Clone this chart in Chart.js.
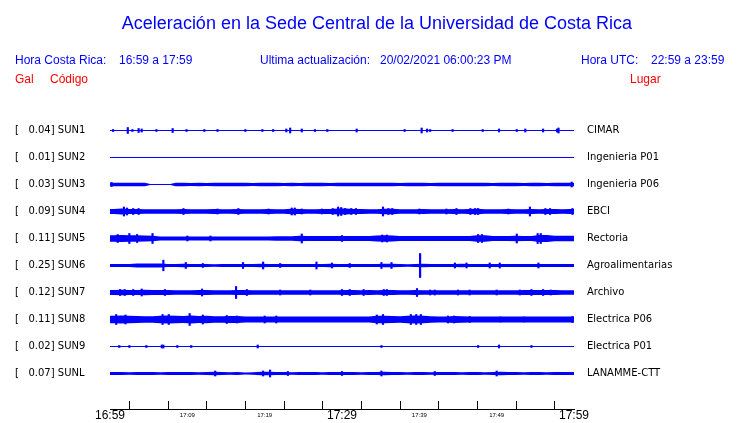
<!DOCTYPE html>
<html>
<head>
<meta charset="utf-8">
<script src="https://cdn.jsdelivr.net/npm/chart.js@4.4.1/dist/chart.umd.min.js"></script>
<style>
  body { margin: 0; background: #fff; }
  #wrap { position: relative; width: 740px; height: 423px; font-family: "Liberation Sans", Arial, sans-serif; }
  #wrap canvas { position: absolute; left: 0; top: 0; }
  .txt { position: absolute; white-space: pre; line-height: 1; }
  .blue { color: #0000ff; }
  .red { color: #ff0000; }
</style>
</head>
<body>
<div id="wrap">
  <canvas id="sismo" width="740" height="423"></canvas>
  <div class="txt blue" style="left:0; width:754px; text-align:center; top:14px; font-size:18px;">Aceleración en la Sede Central de la Universidad de Costa Rica</div>
  <div class="txt blue" style="left:15px; top:54px; font-size:12px;">Hora Costa Rica:</div>
  <div class="txt blue" style="left:119px; top:54px; font-size:12px;">16:59 a 17:59</div>
  <div class="txt blue" style="left:260px; top:54px; font-size:12px;">Ultima actualización:</div>
  <div class="txt blue" style="left:380px; top:54px; font-size:12px;">20/02/2021 06:00:23 PM</div>
  <div class="txt blue" style="left:581px; top:54px; font-size:12px;">Hora UTC:</div>
  <div class="txt blue" style="left:651px; top:54px; font-size:12px;">22:59 a 23:59</div>
  <div class="txt red" style="left:15px; top:73px; font-size:12px;">Gal</div>
  <div class="txt red" style="left:50px; top:73px; font-size:12px;">Código</div>
  <div class="txt red" style="left:630px; top:73px; font-size:12px;">Lugar</div>
</div>
<script>
// stations, peak acceleration (Gal) and place, top to bottom
const codes = ['SUN1', 'SUN2', 'SUN3', 'SUN4', 'SUN5', 'SUN6', 'SUN7', 'SUN8', 'SUN9', 'SUNL'];
const gal = [0.04, 0.01, 0.03, 0.09, 0.11, 0.25, 0.12, 0.11, 0.02, 0.07];
const places = ['CIMAR', 'Ingenieria P01', 'Ingenieria P06', 'EBCI', 'Rectoria', 'Agroalimentarias',
                'Archivo', 'Electrica P06', 'Electrica P01', 'LANAMME-CTT'];
const timeLabels = ['16:59', '17:09', '17:19', '17:29', '17:39', '17:49', '17:59'];
const minutes = 60;

// half amplitude of the continuous band, one value per minute (27 counts = one row)
const bandSUN1 = [];
const bandSUN2 = [];
const bandSUN3 = [1.7,1.7,1.7,1.7,1.7,0,0,0,1.7,1.7,
                  1.4,1.7,1.4,1.7,1.7,1.7,1.7,1.7,1.4,1.7,
                  1.7,1.7,1.4,1.7,1.4,1.7,1.7,1.7,1.4,1.7,
                  1.7,1.7,1.7,1.7,1.7,1.7,1.7,1.4,1.7,1.7,
                  1.7,1.4,1.7,1.7,1.7,1.7,1.7,1.7,1.7,1.4,
                  1.7,1.7,1.7,1.4,1.7,1.7,1.4,1.7,1.7,1.7];
const bandSUN4 = [2.4,3,2.5,2.6,2.2,2.2,2.2,2.2,2.2,2.4,
                  2.2,2.2,2.2,2.4,2.2,2.2,2.4,2.2,2.2,2.2,
                  2.4,2.2,2.2,2.8,2.6,2.2,2.2,2.4,2.4,3,
                  2.9,2.6,2.4,2.2,2.2,2.7,2.7,2.2,2.2,2.2,
                  2.4,2.2,2.2,2.2,2.6,2.2,2.6,2.8,2.2,2.2,
                  2.2,2.4,2.2,2.2,2.6,2.2,2.6,2.4,2.2,2.4];
const bandSUN5 = [3.2,3.4,3.2,3.2,3,2.7,2,2,2,2,
                  2,2,2,2,2,2,2,2,2,2,
                  2,2.2,2.2,2.2,2.8,2.4,2.5,2.5,2.5,2.5,
                  2.5,2.5,2.5,2.5,3,3.2,3,2.4,2.4,2.4,
                  2.4,2.4,2.4,2.4,2.4,2.4,2.6,3.2,3.2,2.6,
                  2.5,2.5,2.8,2.5,2.5,3.4,3.4,2.7,2.7,2.7];
const bandSUN6 = [1.4,1.4,1.6,2,2,2,2,1.6,1.6,1.8,
                  1.4,1.6,1.6,1.2,1.4,1.6,1.6,1.6,1.4,1.8,
                  1.6,1.4,1.6,1.4,1.6,1.4,1.6,1.6,1.8,1.4,
                  1.4,1.6,1.4,1.6,1.4,1.8,1.8,1.4,1.2,1.4,
                  1.8,1.4,1.4,1.4,1.6,1.8,1.6,1.4,1.6,1.4,
                  1.6,1.4,1.4,1.4,1.6,1.6,1.4,1.4,1.4,1.4];
const bandSUN7 = [2.5,2.8,2.5,2.6,2.8,2.4,2.4,2.5,2.2,2.2,
                  2.2,2.4,2.4,2.2,2.2,2.2,2.6,2.4,2.2,2.2,
                  2.2,2.2,2.2,2.2,2.2,2.2,2.2,2.2,2.2,2.2,
                  2.4,2.4,2.2,2.4,2.2,2.6,2.4,2.2,2.2,2.4,
                  2.2,2.2,2.2,2.2,2.2,2.2,2.2,2.2,2.2,2.2,
                  2.2,2.2,2.2,2.4,2.4,2.6,2.4,2.4,2.2,2.2];
const bandSUN8 = [3.8,4,3.7,3.4,3.2,3.2,3.8,4,3.8,3.6,
                  4,3.5,3.7,3.2,3.2,3.4,3.4,3,2.9,2.9,
                  3,2.9,2.9,2.9,2.9,2.9,2.9,2.9,2.9,2.9,
                  2.9,2.9,2.9,3,3.7,3.8,3.6,3.2,3.8,4,
                  3.8,3.2,3,3,3.4,3.2,2.9,2.9,2.9,2.9,
                  2.9,2.9,2.9,2.9,2.9,2.9,2.9,2.9,2.9,2.9];
const bandSUN9 = [];
const bandSUNL = [1.5,1.5,1.3,1.5,1.5,1.5,1.3,1.5,1.5,1.5,
                  1.5,1.3,1.5,1.7,1.5,1.3,1.5,1,1.3,1.7,
                  1.7,1.5,1.5,1.3,1.5,1.5,1.5,1.3,1.5,1.5,
                  1.5,1.5,1.3,1.5,1.5,1.7,1.5,1.5,1.3,1.5,
                  1.5,1.3,1.5,1.5,1.5,1.3,1.5,1.5,1.3,1.5,
                  1.7,1.5,1.5,1.3,1.5,1.5,1.3,1.5,1.5,1.5];

// short bursts: [minute after 16:59, half amplitude]
const spikesSUN1 = [[0.4,1],[2.3,3],[2.9,1],[3.7,2],[4.1,1.5],[6.0,1],[8.1,2],[9.9,1],[12.2,1],[13.9,1],
                    [17.5,1],[19.7,1],[21.1,1],[22.8,1.5],[23.3,2.5],[24.8,1.5],[26.5,1],[28.1,1],[31.9,1.5],
                    [38.1,1],[40.3,2.5],[41.0,1.5],[41.4,1],[44.3,1],[48.2,1],[50.3,1.5],[52.6,1],[53.7,1.5],
                    [56.0,1.5],[57.8,1.5],[58.0,2.5]];
const spikesSUN2 = [];
const spikesSUN3 = [[0.2,2],[59.7,2.5]];
const spikesSUN4 = [[1.8,4.5],[2.2,3.5],[3.0,3],[3.7,3],[9.5,3],[13.9,2.5],[16.6,3],[20.5,2.5],[23.5,3.5],
                    [23.9,3.5],[24.8,2.5],[27.4,2.5],[28.8,3],[29.5,4.5],[29.9,4],[30.4,3],[31.2,3],[31.8,3],
                    [35.3,4.5],[36.0,3],[36.5,3],[40.0,2.5],[43.5,2.5],[44.8,3],[46.6,3],[47.2,3],[47.6,3],
                    [51.5,2.5],[54.3,4.5],[56.3,3],[56.9,3],[59.8,3]];
const spikesSUN5 = [[1.0,4],[2.5,5],[3.5,4],[5.5,5],[10.0,2.5],[13.0,2.5],[24.8,4.5],[30.0,3],[35.2,3.5],
                    [35.8,3.5],[47.6,4],[48.1,4],[52.6,4.5],[55.3,5],[55.7,5]];
const spikesSUN6 = [[6.9,5.3],[9.8,3],[12.0,2],[17.2,3],[19.8,3.5],[22.0,2],[26.7,3.5],[28.7,2.5],[31.0,2],
                    [35.1,3],[36.4,3],[40.1,12],[44.6,2.5],[46.1,2.5],[49.1,2.5],[50.4,2.5],[55.4,2.5]];
const spikesSUN7 = [[1.3,3],[1.9,3],[3.0,3],[4.1,3.5],[7.1,3],[11.9,3.5],[16.3,6],[17.7,3],[22.0,2.5],
                    [25.9,2.5],[30.0,3],[31.0,3],[32.8,3],[35.4,3],[35.8,3],[39.7,4],[41.4,2.5],[42.0,2.5],
                    [45.0,2.5],[46.5,2.5],[50.0,2.5],[53.0,2.5],[54.5,3],[56.0,3],[57.0,2.5]];
const spikesSUN8 = [[0.8,5],[2.0,4.5],[6.8,5],[7.6,5],[10.3,6],[12.0,4.5],[15.1,4],[16.4,3.5],[20.0,3.5],
                    [21.5,3.5],[34.5,4.5],[35.3,5],[38.9,5],[39.6,5],[40.2,5],[43.7,3.5],[44.5,3.5],[46.5,3],
                    [50.5,2.5],[53.5,2.5],[59.8,3]];
const spikesSUN9 = [[1.2,1],[2.5,1],[4.7,1],[6.7,1.5],[6.9,1.5],[8.7,1],[10.5,1],[19.1,1.5],[35.1,1],
                    [47.6,1],[50.3,1.5],[54.5,1]];
const spikesSUNL = [[13.6,2.5],[19.8,2.5],[20.7,3.5],[23.0,2],[30.0,2],[35.1,2.5],[42.0,2],[50.0,2.5]];

const bands = [bandSUN1, bandSUN2, bandSUN3, bandSUN4, bandSUN5, bandSUN6, bandSUN7, bandSUN8, bandSUN9, bandSUNL];
const spikes = [spikesSUN1, spikesSUN2, spikesSUN3, spikesSUN4, spikesSUN5, spikesSUN6, spikesSUN7, spikesSUN8, spikesSUN9, spikesSUNL];

const BLUE = '#0000ff';
const ROW = 27;              // counts per row spacing
const Y_MIN = -1.0185;       // rows land on pixel centres
const Y_MAX = Y_MIN + 306 / ROW;

// build the traces
const datasets = [];
codes.forEach((code, i) => {
    datasets.push({
        type: 'line', data: [{ x: 0, y: i }, { x: minutes, y: i }],
        borderColor: BLUE, borderWidth: 1, pointRadius: 0, fill: false
    });
    const b = bands[i];
    if (b.length) {
        const up = [{ x: 0, y: i - b[0] / ROW }];
        const lo = [{ x: 0, y: i + b[0] / ROW }];
        b.forEach((a, m) => {
            up.push({ x: m + 0.5, y: i - a / ROW });
            lo.push({ x: m + 0.5, y: i + a / ROW });
        });
        up.push({ x: minutes, y: i - b[b.length - 1] / ROW });
        lo.push({ x: minutes, y: i + b[b.length - 1] / ROW });
        datasets.push({ type: 'line', data: up, borderWidth: 0, pointRadius: 0, fill: false });
        datasets.push({ type: 'line', data: lo, borderWidth: 0, pointRadius: 0, fill: '-1', backgroundColor: BLUE });
    }
    datasets.push({
        type: 'bar',
        data: spikes[i].map(([m, a]) => ({ x: m, y: [i - a / ROW, i + a / ROW] })),
        backgroundColor: BLUE, barThickness: 1.5, grouped: false
    });
});

const rowTicks = axis => { axis.ticks = codes.map((c, i) => ({ value: i })); };

new Chart(document.getElementById('sismo'), {
    type: 'line',
    data: { datasets: datasets },
    options: {
        responsive: false,
        devicePixelRatio: 1,
        animation: false,
        events: [],
        layout: { padding: { left: 15, right: 0, top: 103, bottom: 0 } },
        plugins: { legend: { display: false }, tooltip: { enabled: false }, title: { display: false } },
        scales: {
            x: {
                type: 'linear', min: 0, max: minutes, offset: false,
                afterFit: s => { s.height = 14; },
                grid: { drawOnChartArea: false, drawTicks: true, tickLength: -8, color: '#000', lineWidth: 1 },
                border: { display: true, color: '#000', width: 1 },
                ticks: {
                    stepSize: 5, autoSkip: false, maxRotation: 0, minRotation: 0, padding: 7.8, color: '#000',
                    font: ctx => (ctx.tick && ctx.tick.value % 30 === 0)
                        ? { family: "'Liberation Sans', Arial, sans-serif", size: 12, lineHeight: 1.2 }
                        : { family: "'Liberation Sans', Arial, sans-serif", size: 6, lineHeight: 2.07 },
                    callback: v => v % 10 === 0 ? timeLabels[v / 10] : ''
                }
            },
            y: {
                type: 'linear', position: 'left', reverse: true, min: Y_MIN, max: Y_MAX,
                afterBuildTicks: rowTicks,
                afterFit: s => { s.width = 95; },
                grid: { display: false, drawTicks: false },
                border: { display: false },
                ticks: {
                    crossAlign: 'far', padding: 0, color: '#000',
                    font: { family: "'DejaVu Sans', sans-serif", size: 10 },
                    callback: v => '[' + gal[v].toFixed(2).padStart(7) + '] ' + codes[v]
                }
            },
            y2: {
                type: 'linear', position: 'right', reverse: true, min: Y_MIN, max: Y_MAX,
                afterBuildTicks: rowTicks,
                afterFit: s => { s.width = 166; },
                // invisible tick marks push the place names away from the traces
                grid: { display: true, drawOnChartArea: false, drawTicks: true, tickLength: 13, color: 'rgba(0,0,0,0)' },
                border: { display: false },
                ticks: {
                    padding: 0, color: '#000',
                    font: { family: "'DejaVu Sans', sans-serif", size: 10 },
                    callback: v => places[v]
                }
            }
        }
    }
});
</script>
</body>
</html>
